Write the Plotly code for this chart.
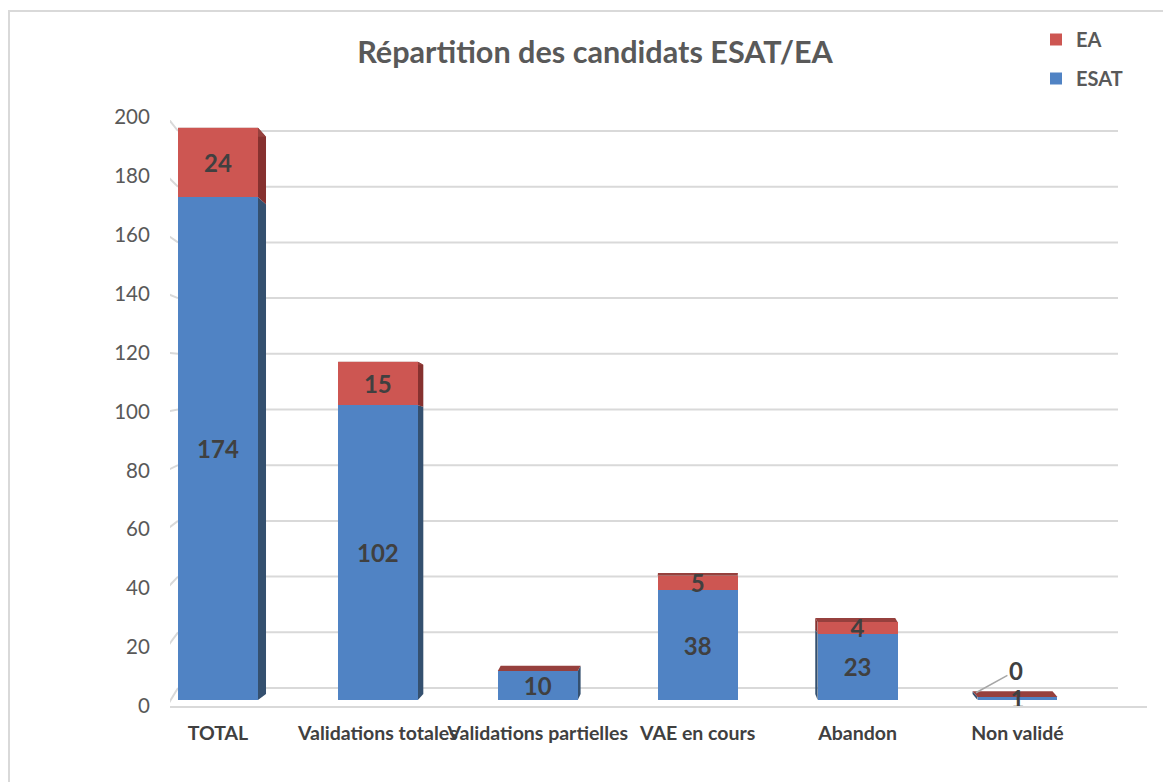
import plotly.graph_objects as go

# ---------------- data ----------------
categories = ["TOTAL", "Validations totales", "Validations partielles",
              "VAE en cours", "Abandon", "Non validé"]
esat = [174, 102, 10, 38, 23, 1]
ea = [24, 15, 0, 5, 4, 0]
y_ticks = [0, 20, 40, 60, 80, 100, 120, 140, 160, 180, 200]

# ---------------- styling / geometry ----------------
OFF = 8                       # page body margin
W, H = 1171 - OFF, 782 - OFF
PL, PR, PT, PB = 170, 1147, 117, 706   # plot area in page pixels
L, T = PL - OFF, PT - OFF
R, B = W - (PR - OFF), H - (PB - OFF)
plot_w = PR - PL
plot_h = PB - PT
x_range = [-0.30, 5.81]
y_range = [0, 200]
bar_scale = 2.89                        # px per unit for the columns
bar_base_px = 6                         # columns stand slightly behind the front edge
y2_range = [-bar_base_px / bar_scale, (plot_h - bar_base_px) / bar_scale]
ppx = plot_w / (x_range[1] - x_range[0])
ppy = plot_h / (y_range[1] - y_range[0])
bar_w = 0.5

C_ESAT = "#5083C4"
C_EA = "#CD5652"
C_ESAT_SIDE = "#34506F"
C_EA_SIDE = "#86312F"
C_EA_TOP = "#96403D"
GRID = "#D9D9D9"
FONT = "Lato"

# 3D perspective helpers (pixel based styling)
cx_eye, kx = 3.1, 2.6
h_eye, ky = 80, 0.075
back_off_px, back_px = 18, 2.785


def dxu(i):
    return kx * (cx_eye - i) / ppx


def dyu(v):
    return ky * (h_eye - v) / bar_scale


def back_val(v):
    return (back_off_px + back_px * v) / ppy


def px_to_x(px):
    return x_range[0] + (px - PL) / ppx


xs = list(range(len(categories)))
ea_text = [str(v) if v else "" for v in ea]
label_font = dict(family=FONT, size=24, color="#404040", weight="bold")

fig = go.Figure()
fig.add_trace(go.Bar(
    x=xs, y=esat, name="ESAT", width=bar_w, yaxis="y2",
    marker=dict(color=C_ESAT, line=dict(width=0)),
    text=[str(v) for v in esat], textposition="inside", textangle=0,
    insidetextanchor="middle", constraintext="none",
    textfont=label_font, legendgroup="esat", legendrank=2,
))
fig.add_trace(go.Bar(
    x=xs, y=ea, name="EA", width=bar_w, yaxis="y2",
    marker=dict(color=C_EA, line=dict(width=0)),
    text=ea_text, textposition="inside", textangle=0,
    insidetextanchor="middle", constraintext="none",
    textfont=label_font, legendgroup="ea", legendrank=1,
))

shapes = []
xb0, xb1 = px_to_x(178), px_to_x(1118)
xf0 = px_to_x(167)
for v in y_ticks:
    shapes.append(dict(type="line", xref="x", yref="y", layer="below",
                       x0=xb0, x1=xb1, y0=back_val(v), y1=back_val(v),
                       line=dict(color=GRID, width=2)))
    shapes.append(dict(type="line", xref="x", yref="y", layer="below",
                       x0=xf0, x1=xb0, y0=v, y1=back_val(v),
                       line=dict(color=GRID, width=2)))

for i in xs:
    d = dxu(i)
    xe = i + bar_w / 2 if d > 0 else i - bar_w / 2
    top = esat[i] + ea[i]
    for y0, y1, col in ((0, esat[i], C_ESAT_SIDE), (esat[i], top, C_EA_SIDE)):
        if y1 <= y0:
            continue
        path = (f"M {xe},{y0} L {xe},{y1} L {xe + d},{y1 + dyu(y1)} "
                f"L {xe + d},{y0 + dyu(y0)} Z")
        shapes.append(dict(type="path", xref="x", yref="y2", layer="below",
                           path=path, fillcolor=col, line=dict(width=0)))
    xl, xr = i - bar_w / 2, i + bar_w / 2
    dt = dyu(top)
    path = (f"M {xl},{top} L {xr},{top} L {xr + d},{top + dt} "
            f"L {xl + d},{top + dt} Z")
    shapes.append(dict(type="path", xref="x", yref="y2", layer="below",
                       path=path, fillcolor=C_EA_TOP, line=dict(width=0)))

# chart border
shapes.append(dict(type="rect", xref="paper", yref="paper", layer="above",
                   x0=(9 - PL) / plot_w, x1=1.5, y0=-0.5,
                   y1=(PB - 11) / plot_h,
                   line=dict(color=GRID, width=2), fillcolor="rgba(0,0,0,0)"))

last = len(categories) - 1
fig.add_annotation(
    x=last - bar_w / 2 - 0.01, y=esat[last] + ea[last] + 1.5,
    xref="x", yref="y2", text=str(ea[last]),
    showarrow=True, arrowhead=0, arrowwidth=1.5, arrowcolor="#A6A6A6",
    ax=40, ay=-22, font=label_font,
)

fig.update_layout(
    width=W, height=H,
    margin=dict(l=L, r=R, t=T, b=B, autoexpand=False),
    paper_bgcolor="white", plot_bgcolor="white",
    barmode="stack",
    shapes=shapes,
    title=dict(text="Répartition des candidats ESAT/EA",
               x=(595 - OFF) / W, xanchor="center",
               y=1 - (52 - OFF) / H, yanchor="middle",
               font=dict(family=FONT, size=30.6, color="#595959", weight="bold")),
    legend=dict(traceorder="grouped", x=(1036 - PL) / plot_w,
                xanchor="left", y=(PB - 20) / plot_h, yanchor="top",
                font=dict(family=FONT, size=20, color="#595959", weight="bold"),
                tracegroupgap=10, bgcolor="rgba(0,0,0,0)"),
    xaxis=dict(range=x_range, tickvals=xs, ticktext=categories, tickangle=0,
               showgrid=False, zeroline=False, showline=True,
               linecolor=GRID, linewidth=2,
               ticks="outside", ticklen=9, tickcolor="rgba(0,0,0,0)",
               tickfont=dict(family=FONT, size=19.5, color="#404040", weight="bold")),
    yaxis=dict(range=y_range, tickvals=y_ticks, showgrid=False,
               zeroline=False, showline=False,
               ticks="outside", ticklen=15, tickcolor="rgba(0,0,0,0)",
               tickfont=dict(family=FONT, size=20.5, color="#595959")),
    yaxis2=dict(range=y2_range, overlaying="y", anchor="x", visible=False,
                showgrid=False, zeroline=False),
    showlegend=True,
)

fig.write_html("out.html")
